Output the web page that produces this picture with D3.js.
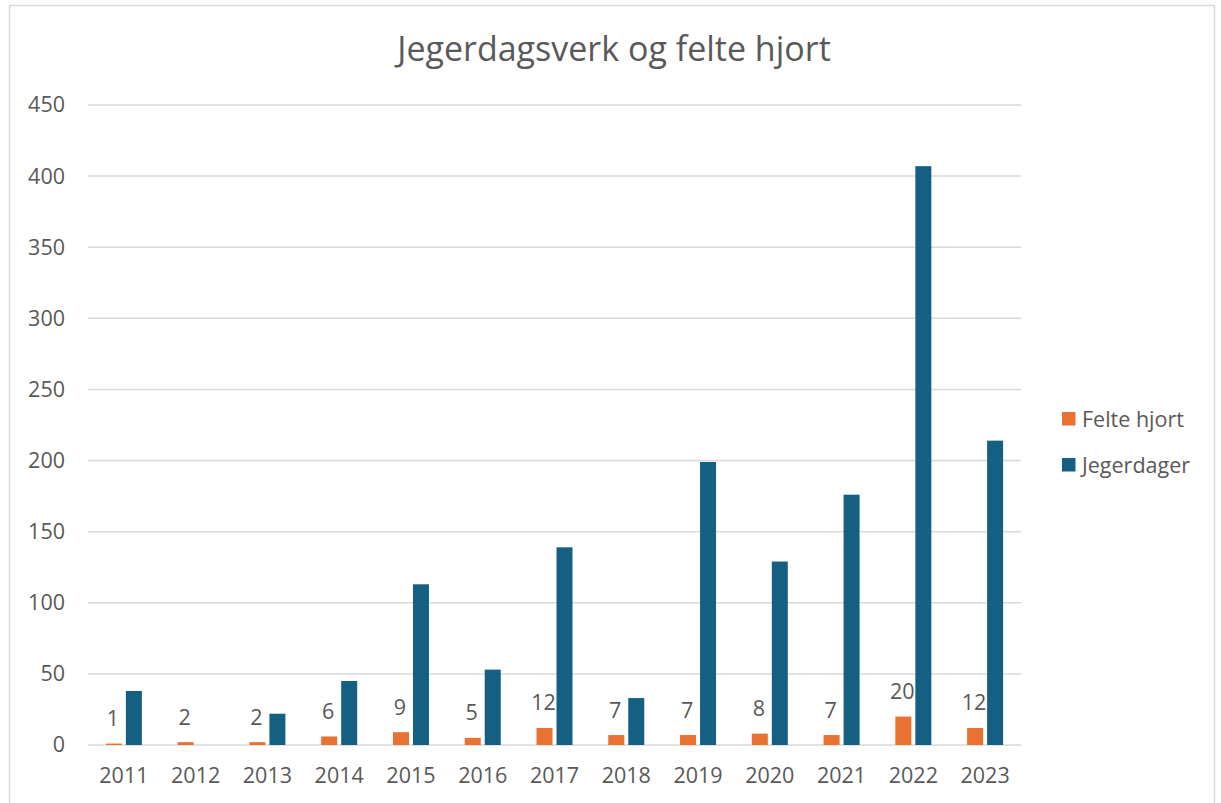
<!DOCTYPE html>
<html>
<head>
<meta charset="utf-8">
<script src="https://cdn.jsdelivr.net/npm/d3@7"></script>
<style>
  html, body { margin: 0; padding: 0; background: #fff; }
  svg { display: block; }
  text { font-family: "Open Sans", "Liberation Sans", sans-serif; fill: #595959; }
</style>
</head>
<body>
<script>
const years = ["2011","2012","2013","2014","2015","2016","2017","2018","2019","2020","2021","2022","2023"];
const felteHjort = [1, 2, 2, 6, 9, 5, 12, 7, 7, 8, 7, 20, 12];
const jegerdager = [38, 0, 22, 45, 113, 53, 139, 33, 199, 129, 176, 407, 214];
const seriesNames = ["Felte hjort", "Jegerdager"];
const seriesColors = ["#E97132", "#156082"];
const yTicks = [0, 50, 100, 150, 200, 250, 300, 350, 400, 450];
const title = "Jegerdagsverk og felte hjort";

const W = 1221, H = 803;
const FS = 21.5;
const svg = d3.select("body").append("svg").attr("width", W).attr("height", H);

// chart border
svg.append("rect").attr("x", 9.5).attr("y", 5.5).attr("width", 1205).attr("height", 810)
  .attr("fill", "#fff").attr("stroke", "#D9D9D9").attr("stroke-width", 1.5);

const plot = { left: 88, right: 1021, top: 105, bottom: 745 };

const x0 = d3.scaleBand().domain(years).range([plot.left, plot.right]).padding(0);
const x1 = d3.scaleBand().domain(seriesNames).range([0, 36]).paddingInner(0.2);
const y = d3.scaleLinear().domain([0, 450]).range([plot.bottom, plot.top]);

// gridlines
svg.append("g").selectAll("line").data(yTicks).join("line")
  .attr("x1", plot.left).attr("x2", plot.right)
  .attr("y1", d => y(d)).attr("y2", d => y(d))
  .attr("stroke", "#D9D9D9").attr("stroke-width", 1.5);

// y axis labels
const yAxis = d3.axisLeft(y).tickValues(yTicks).tickSize(0).tickPadding(0);
const gy = svg.append("g").attr("transform", `translate(65,0)`).call(yAxis);
gy.select(".domain").remove();
gy.selectAll("text").attr("font-size", FS).attr("fill", "#595959")
  .style("font-family", '"Open Sans", sans-serif');

// x axis labels
const xAxis = d3.axisBottom(x0).tickSize(0).tickPadding(0);
const gx = svg.append("g").attr("transform", `translate(0,${plot.bottom + 23})`).call(xAxis);
gx.select(".domain").remove();
gx.selectAll("text").attr("font-size", FS).attr("fill", "#595959")
  .style("font-family", '"Open Sans", sans-serif');

const rows = years.map((yr, i) => ({ year: yr, vals: [felteHjort[i], jegerdager[i]] }));

const groups = svg.append("g").selectAll("g").data(rows).join("g")
  .attr("transform", d => `translate(${x0(d.year) + x0.bandwidth() / 2 - 18},0)`);

groups.selectAll("rect").data(d => d.vals.map((v, k) => ({ name: seriesNames[k], v, k })))
  .join("rect")
  .attr("x", d => x1(d.name))
  .attr("width", x1.bandwidth())
  .attr("y", d => y(d.v))
  .attr("height", d => y(0) - y(d.v))
  .attr("fill", d => seriesColors[d.k]);

// data labels for Felte hjort
groups.append("text")
  .attr("x", x1("Felte hjort") + x1.bandwidth() / 2 - 1)
  .attr("y", d => y(d.vals[0]) - 25)
  .attr("dy", "0.35em")
  .attr("text-anchor", "middle")
  .attr("font-size", FS)
  .attr("fill", "#404040")
  .text(d => d.vals[0]);

// title
svg.append("text").attr("x", 614).attr("y", 49).attr("dy", "0.35em")
  .attr("text-anchor", "middle").attr("font-size", 34).attr("fill", "#595959")
  .text(title);

// legend
const lg = svg.append("g").selectAll("g").data(seriesNames).join("g")
  .attr("transform", (d, i) => `translate(1062,${412 + i * 46})`);
lg.append("rect").attr("width", 13.5).attr("height", 13.5).attr("fill", (d, i) => seriesColors[i]);
lg.append("text").attr("x", 20).attr("y", 7).attr("dy", "0.35em")
  .attr("font-size", FS).attr("fill", "#595959").text(d => d);
</script>
</body>
</html>
